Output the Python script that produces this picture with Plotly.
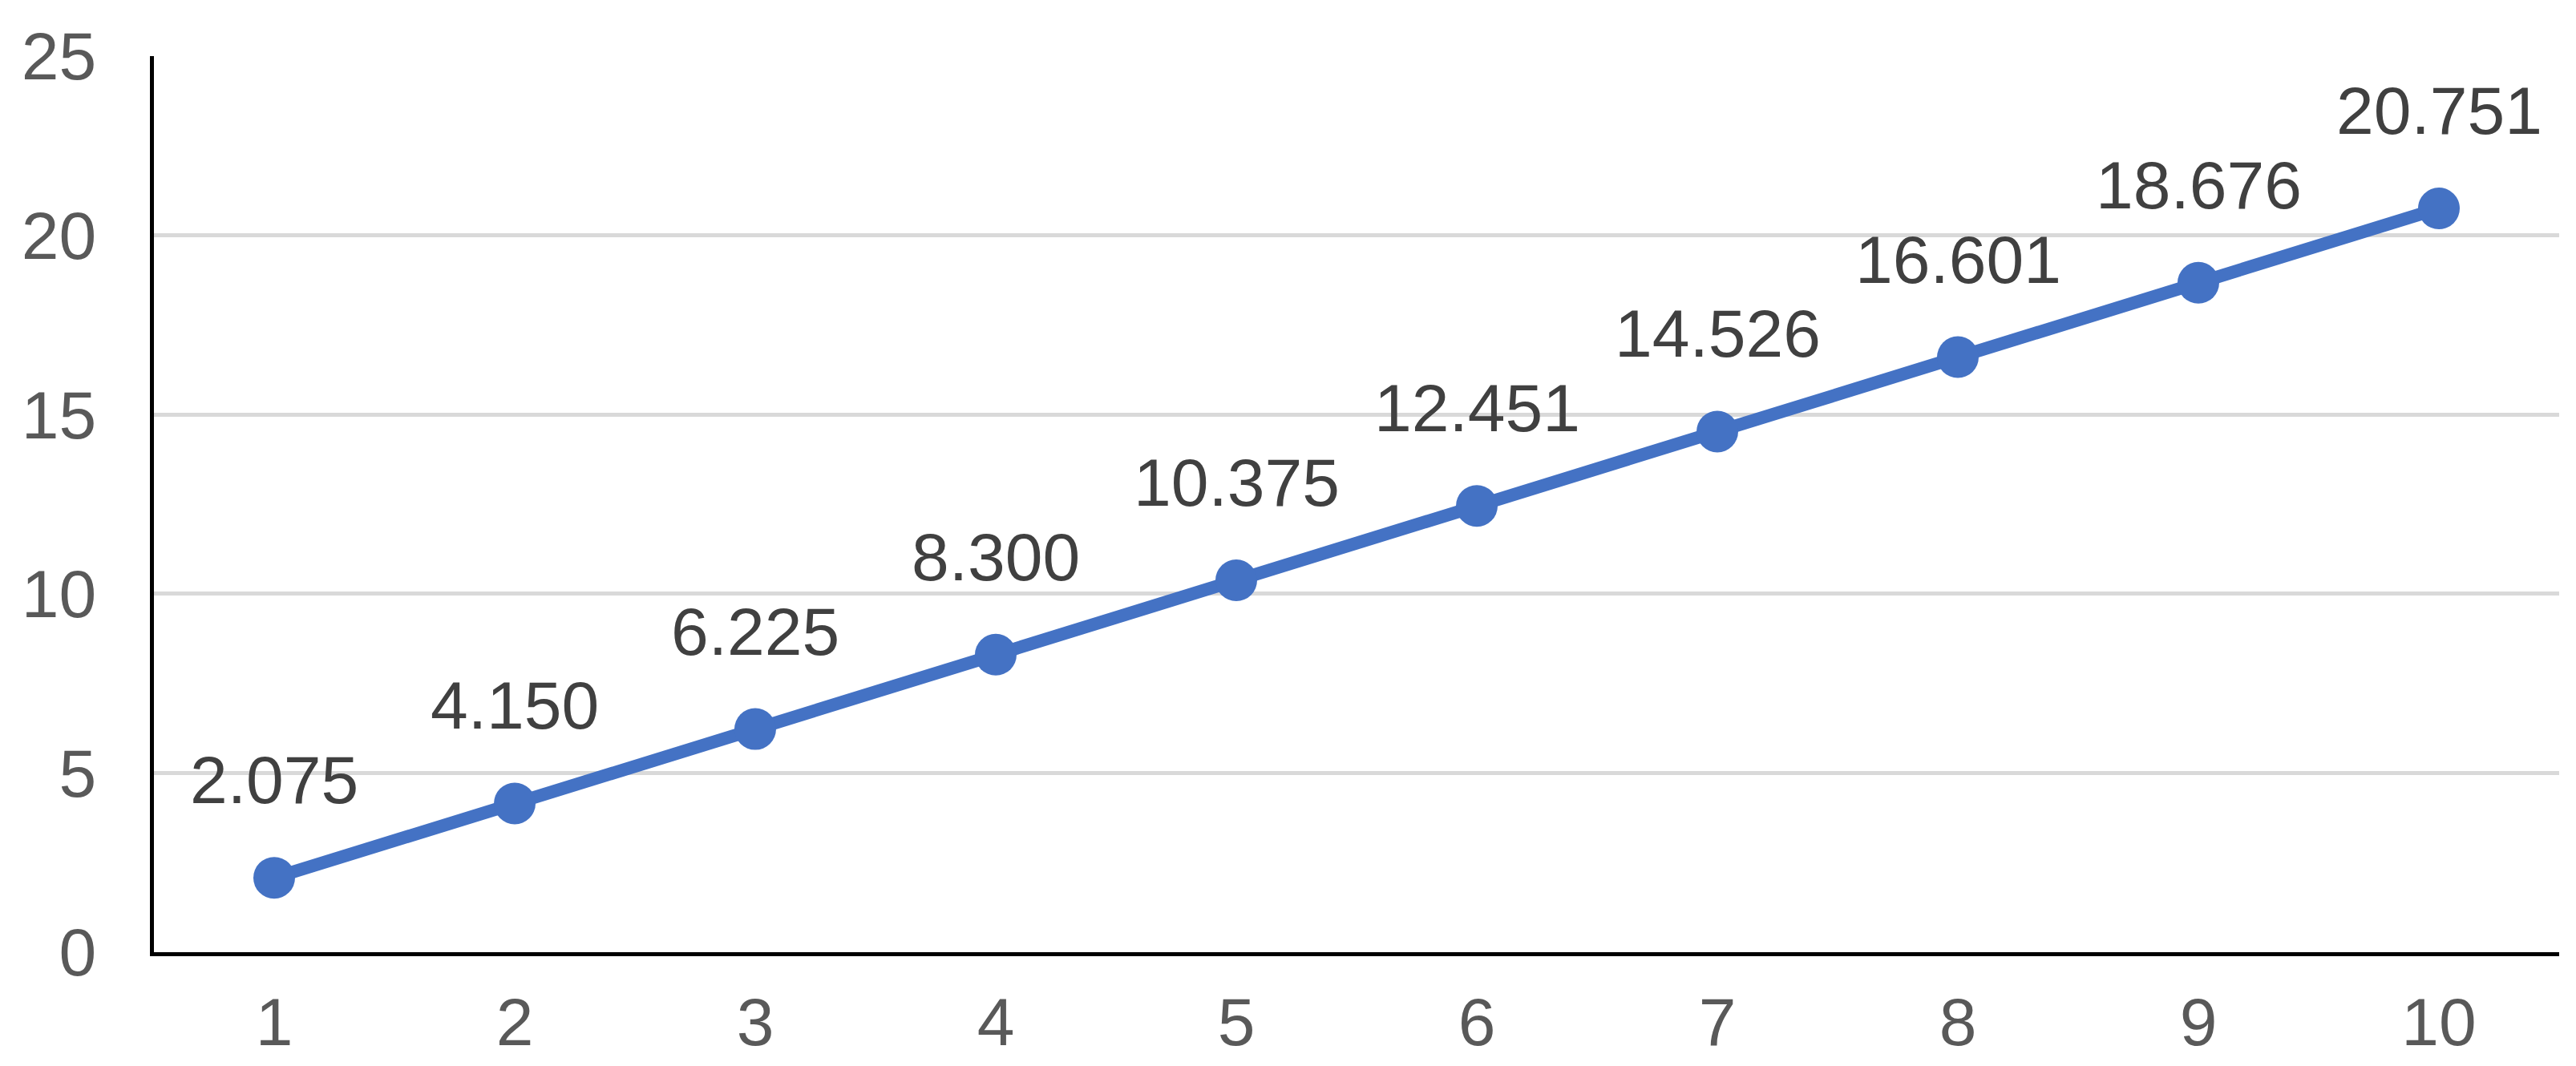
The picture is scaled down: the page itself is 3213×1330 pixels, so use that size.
import plotly.graph_objects as go

x_vals = [1, 2, 3, 4, 5, 6, 7, 8, 9, 10]
y_vals = [2.075, 4.150, 6.225, 8.300, 10.375, 12.451, 14.526, 16.601, 18.676, 20.751]
labels = [f"{v:.3f}" for v in y_vals]

fig = go.Figure(go.Scatter(
    x=x_vals, y=y_vals, mode="lines+markers",
    line=dict(color="#4472C4", width=16),
    marker=dict(color="#4472C4", size=52),
    cliponaxis=False,
))

for xv, yv, lab in zip(x_vals, y_vals, labels):
    fig.add_annotation(x=xv, y=yv, text=lab, showarrow=False, yshift=122,
                       font=dict(family="Liberation Sans, Arial", size=84, color="#404040"))

fig.update_layout(
    width=3213, height=1330,
    margin=dict(l=184, r=29, t=62, b=150),
    plot_bgcolor="white", paper_bgcolor="white",
    showlegend=False,
    font=dict(family="Liberation Sans, Arial", size=84, color="#595959"),
)
fig.update_xaxes(
    range=[0.5, 10.5], tickmode="array", tickvals=x_vals,
    showgrid=False, showline=True, linecolor="black", linewidth=5,
    ticks="", zeroline=False, ticklabelstandoff=10,
)
fig.update_yaxes(
    range=[0, 25], dtick=5, showgrid=True, gridcolor="#D9D9D9", gridwidth=5,
    showline=True, linecolor="black", linewidth=5, zeroline=False, ticks="",
    ticklabelstandoff=50,
)

fig.write_html("out.html")
